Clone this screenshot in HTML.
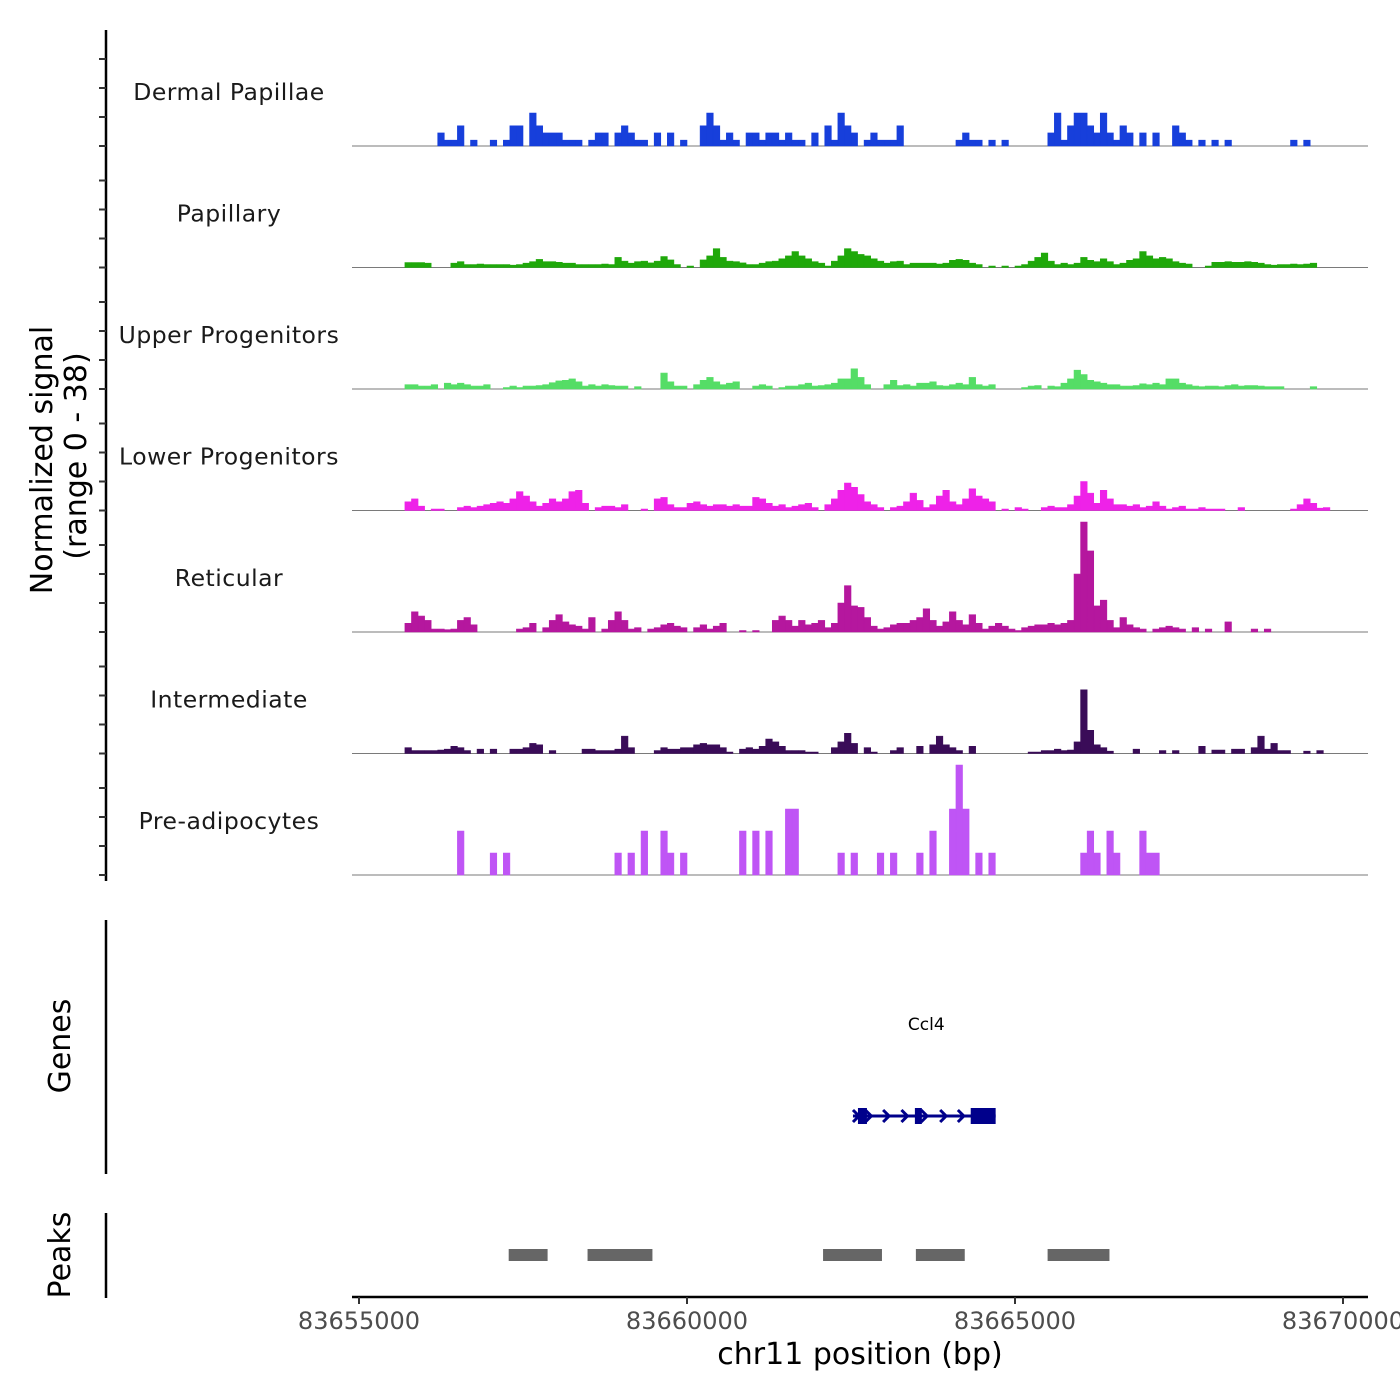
<!DOCTYPE html>
<html><head><meta charset="utf-8"><style>
html,body{margin:0;padding:0;background:#fff;width:1400px;height:1400px;overflow:hidden}
svg{display:block}
text{font-family:"DejaVu Sans","Liberation Sans",sans-serif}
</style></head><body>
<svg id="chart" width="1400" height="1400" viewBox="0 0 1400 1400" xmlns="http://www.w3.org/2000/svg">
<g id="tracks"></g>
<g id="labels"></g>
<line x1="106" y1="30" x2="106" y2="881" stroke="#000" stroke-width="2.5"/>
<g id="yticks"></g>
<text transform="translate(52,460) rotate(-90)" text-anchor="middle" font-size="30" fill="#000">Normalized signal</text>
<text transform="translate(86,456) rotate(-90)" text-anchor="middle" font-size="30" fill="#000">(range 0 - 38)</text>
<line x1="106" y1="920" x2="106" y2="1174" stroke="#000" stroke-width="2.5"/>
<text transform="translate(70,1046) rotate(-90)" text-anchor="middle" font-size="30" fill="#000">Genes</text>
<g id="genes"></g>
<line x1="106" y1="1213" x2="106" y2="1298" stroke="#000" stroke-width="2.5"/>
<text transform="translate(70,1255) rotate(-90)" text-anchor="middle" font-size="30" fill="#000">Peaks</text>
<g id="peaks"></g>
<line x1="352" y1="1297" x2="1368" y2="1297" stroke="#000" stroke-width="2.5"/>
<g id="xticks"></g>
<text x="860" y="1364" text-anchor="middle" font-size="30" fill="#000">chr11 position (bp)</text>
</svg>
<script>
const START = 83655000, END = 83670000, BIN = 100, YMAX = 38;
const trackNames = ["Dermal Papillae","Papillary","Upper Progenitors","Lower Progenitors","Reticular","Intermediate","Pre-adipocytes"];
const trackColors = ["#173fdb","#1fa80a","#55dd66","#ee22e8","#b5179e","#3a0c58","#bf55f5"];
const xTicks = [83655000, 83660000, 83665000, 83670000];
const yTickVals = [0, 10, 20, 30];
const dermal = [0,0,0,0,0,0,0,0,0,0, 0,0,4.5,2,2,7,0,2,0,0, 2,0,2,7,7,0,11.4,7,4.5,4.5, 4.5,2,2,2,0,2,4.5,4.5,0,4.5, 7,4.5,2,2,0,4.5,0,4.5,0,2, 0,0,7,11.4,7,2,4.5,2,0,4.5, 4.5,2,4.5,4.5,2,4.5,2,2,0,4.5, 0,7,2,11.4,7,4.5,0,2,4.5,2, 2,2,7,0,0,0,0,0,0,0, 0,2,4.5,2,2,0,2,0,2,0, 0,0,0,0,0,4.5,11.4,2,7,11.4, 11.4,7,4.5,11.4,4.5,2,7,4.5,0,4.5, 0,4.5,0,0,7,4.5,2,0,2,0, 2,0,2,0,0,0,0,0,0,0, 0,0,2,0,2,0,0,0,0,0];
const papillary = [0,0,0,0,0,0,0,1.7,1.7,1.7, 1.5,0,0,0,1.5,2,1,1,1.2,1, 1,1,1,0.8,1,1.5,2,2.8,2,2, 1.8,1.5,1.5,1,1,1,1,1.2,1,3.5, 2.2,1.5,2,2.2,1.6,2.2,3.8,2.6,1,0, 0.5,0,2.6,4,6.5,3.5,2.2,2,1.6,1, 1,1.5,2,2.2,3,4,5.5,4,3,2, 1.5,0.5,2.2,4,6.5,5.5,4.5,4,3,2.2, 1.5,2,2.2,1,1.5,1.5,1.5,1.5,1.2,1.5, 2.5,2.8,2.5,1.5,1,0,0.5,0,0.5,0, 0.5,1,2.2,3.5,5,2.2,1,1.5,1,1.5, 3.5,2.5,2,3,2,1,1.5,2.5,3,5.5, 4,3,3.5,3,2,1.5,1.2,0,0,0.5, 1.8,1.8,2,1.8,1.8,2,1.8,1.5,1,0.8, 1,1,1.2,1,1.2,1.5,0,0,0,0];
const upper = [0,0,0,0,0,0,0,1.5,1.5,1, 1,1.5,0,2,1.5,2,1.5,1,1,1.5, 0,0,0.5,1,0.5,1,1,1.2,1.5,2.2, 2.8,3,3.5,2.5,1,1.5,1,1.5,1.2,1, 1,0,0.8,0,0,0,5.5,2.5,1,1, 0,1.5,3,4,2.5,1.5,2,2.5,0,0, 1,1.5,1,0,0.5,1,1,1.5,2,1, 1.2,1.5,2,3.5,3.5,7,4,1.5,0,0, 1.5,3,1.2,1.5,1,2,2,2.5,1.2,1, 1.5,2,1.5,4,1.5,1,1.5,0,0,0, 0,0.5,1,1.2,0,1,0.8,2,3.5,6.5, 5,3,2.5,2,1.5,1.5,1,1,1.2,1.8, 1.5,2,1.5,3.5,3.5,2,1.5,1,0.8,1, 1,0.8,1.2,1.5,1,1.2,1.2,1,0.8,0.8, 0.8,0,0,0,0,0.8,0,0,0,0];
const lower = [0,0,0,0,0,0,0,3,4,1.5, 0,0.5,0.5,0,0,1,1.5,1,1.5,2, 2.5,3,2.5,4,6.5,5,3,1.5,2.5,4, 3,4,6.5,7,2.5,0,1,1.5,1.5,1, 2,0,0,0.5,0,4,4.5,2,1,1, 2.5,3,2,1.5,2,2,1.5,2,1.5,1.5, 4.5,4,2.5,1.5,2,1,1.5,2,2.5,1, 0,2,4,7,9.5,8,5.5,3,2,1, 0,1,1.5,3,6,3.5,1,2,5,7, 3,2,4,7.5,5,4,3,0,0.5,0, 1,0.5,0,0,1,1.5,1,1,2,5, 10,6,2.5,7,4,2,2,1.5,2,1, 1.5,3,1.5,0.5,1,1.5,0.5,0.5,1,0.5, 0.5,0.5,0,0,1,0,0,0,0,0, 0,0,0.5,2,4,2.5,0.8,1,0,0];
const reticular = [0,0,0,0,0,0,0,3,7,5.5, 4,1,1,0.8,1,4,5,2.5,0,0, 0,0,0,0,1,1.5,3,0,1.5,4, 6,3.5,2.5,2,1,5,0,1,4,7, 4,1,1.5,0,1,1.5,2.5,3,2,1.5, 0,1.5,2.5,1,2,3,0,0,0.5,0, 0.5,0,0,4,5.5,4,2,4,2.5,3, 4,1.5,3,10,16,9,8.5,5,2,1, 1.5,2.5,3,3,4,5,8,4,2,3.5, 7,4,2.5,6,3,1,2,3,2,1, 0.5,1.5,2,2.5,2.5,3,2.5,3,4,20, 38,28,9,11,4,1.5,5,2.5,1.5,1, 0,1,1.5,2,1.5,1,0,1.5,0,1, 0,0,3.5,0,0,0,1,0,1,0, 0,0,0,0,0,0,0,0,0,0];
const intermediate = [0,0,0,0,0,0,0,2,1,1, 1,1,1.2,1.5,2.5,2,1,0,1.5,0, 1.5,0,0,1.5,1.5,2,3.5,3,0,1, 0,0,0,0,1.5,1.5,1,1,1,1.5, 6,2,0,0,0,1,2,1.5,1.5,2, 2,3,3.5,3,3,2,0.5,0,1.5,2, 1.5,2.5,5,4,2.5,1,1,1,0.5,0.5, 0,0,2,4,7,3.5,0,2,0.5,0, 0,1,2,0,0,2.5,0,3,6,3, 2,1,0,2.5,0,0,0,0,0,0, 0,0,0.5,0.5,1,1,1.5,1,1.2,4, 22,8,3,2,0.8,0,0,0,1.5,0, 0,0,1,0,1,0,0,0,2.5,0, 1.2,1.2,0,1.5,1.5,0,2,6,1.5,3.5, 1,1,0,0,0.8,0,1,0,0,0];
const preadipocytes = [0,0,0,0,0,0,0,0,0,0, 0,0,0,0,0,15.2,0,0,0,0, 7.6,0,7.6,0,0,0,0,0,0,0, 0,0,0,0,0,0,0,0,0,7.6, 0,7.6,0,15.2,0,0,15.2,7.6,0,7.6, 0,0,0,0,0,0,0,0,15.2,0, 15.2,0,15.2,0,0,22.8,22.8,0,0,0, 0,0,0,7.6,0,7.6,0,0,0,7.6, 0,7.6,0,0,0,7.6,0,15.2,0,0, 22.8,38,22.8,0,7.6,0,7.6,0,0,0, 0,0,0,0,0,0,0,0,0,0, 7.6,15.2,7.6,0,15.2,7.6,0,0,0,15.2, 7.6,7.6,0,0,0,0,0,0,0,0, 0,0,0,0,0,0,0,0,0,0, 0,0,0,0,0,0,0,0,0,0];
const trackData = [dermal, papillary, upper, lower, reticular, intermediate, preadipocytes];
const geneName = "Ccl4";
const geneStart = 83662530, geneEnd = 83664705;
const exonStarts = [83662606, 83663474, 83664325];
const exonEnds = [83662743, 83663580, 83664705];
const chevronPos = [83662780, 83663050, 83663330, 83663630, 83663920, 83664190];
const peakStarts = [83657282, 83658484, 83662074, 83663489, 83665497];
const peakEnds = [83657875, 83659473, 83662972, 83664234, 83666440];

const NS = "http://www.w3.org/2000/svg";
const X0 = 359, X1 = 1343;
function xs(bp){ return X0 + (bp - START) / (END - START) * (X1 - X0); }
const TRACK_H = 121.5, TRACK_PX = 110;
function base(t){ return 146 + t * TRACK_H; }
function ys(t, v){ return base(t) - v / YMAX * TRACK_PX; }
function mk(tag, attrs, parent){ const e = document.createElementNS(NS, tag); for (const k in attrs) e.setAttribute(k, attrs[k]); parent.appendChild(e); return e; }

const gTracks = document.getElementById('tracks');
const gLabels = document.getElementById('labels');
const gY = document.getElementById('yticks');
trackData.forEach((arr, t) => {
  const b = base(t);
  const bl = mk('line', {x1:352, x2:1368, y1:b, y2:b, stroke:'#7a7a7a', 'stroke-width':1}, gTracks);
  
  
  let d = '';
  arr.forEach((v, i) => {
    if (v <= 0) return;
    const xa = xs(START + i * BIN), xb = xs(START + (i + 1) * BIN);
    d += 'M' + xa.toFixed(2) + ',' + b + 'L' + xa.toFixed(2) + ',' + ys(t, v).toFixed(2) + 'L' + xb.toFixed(2) + ',' + ys(t, v).toFixed(2) + 'L' + xb.toFixed(2) + ',' + b + 'Z';
  });
  const p = mk('path', {d: d, fill: trackColors[t], stroke: trackColors[t], 'stroke-width': 0.6}, gTracks);
  
  
  const lab = mk('text', {x:229, y:b - 46, 'text-anchor':'middle', 'font-size':23.5, fill:'#1a1a1a', 'letter-spacing':'0.5'}, gLabels);
  lab.textContent = trackNames[t];
  
  
  yTickVals.forEach(v => {
    const y = b - v * 2.9;
    const tk = mk('line', {x1:99, x2:106, y1:y, y2:y, stroke:'#333', 'stroke-width':2}, gY);
    
    
  });
});

const gG = document.getElementById('genes');
const gl = mk('line', {x1:xs(geneStart), x2:xs(geneEnd), y1:1116, y2:1116, stroke:'#00008b', 'stroke-width':3}, gG);


const gx0 = xs(geneStart);
const cross = mk('path', {d:'M'+(gx0)+',1110L'+(gx0+6)+',1116L'+gx0+',1122', fill:'none', stroke:'#00008b', 'stroke-width':3}, gG);


chevronPos.forEach(bp => {
  const cx = xs(bp);
  const c = mk('path', {d:'M'+(cx-4)+',1110L'+(cx+2)+',1116L'+(cx-4)+',1122', fill:'none', stroke:'#00008b', 'stroke-width':3}, gG);
  
  
});
exonStarts.forEach((s, i) => {
  const r = mk('rect', {x:xs(s), y:1108, width:xs(exonEnds[i]) - xs(s), height:16, fill:'#00008b'}, gG);
  
  
});
const gn = mk('text', {x:(xs(geneStart)+xs(geneEnd))/2 + 2, y:1030, 'text-anchor':'middle', 'font-size':17, fill:'#000'}, gG);
gn.textContent = geneName;



const gP = document.getElementById('peaks');
peakStarts.forEach((s, i) => {
  const r = mk('rect', {x:xs(s), y:1249, width:xs(peakEnds[i]) - xs(s), height:12, fill:'#666666'}, gP);
  
  
});

const gX = document.getElementById('xticks');
xTicks.forEach(v => {
  const x = xs(v);
  const tk = mk('line', {x1:x, x2:x, y1:1297, y2:1304, stroke:'#333', 'stroke-width':2}, gX);
  
  
  const tl = mk('text', {x:x, y:1329, 'text-anchor':'middle', 'font-size':24, fill:'#4d4d4d'}, gX);
  tl.textContent = String(v);
  
  
});
</script>
</body></html>
